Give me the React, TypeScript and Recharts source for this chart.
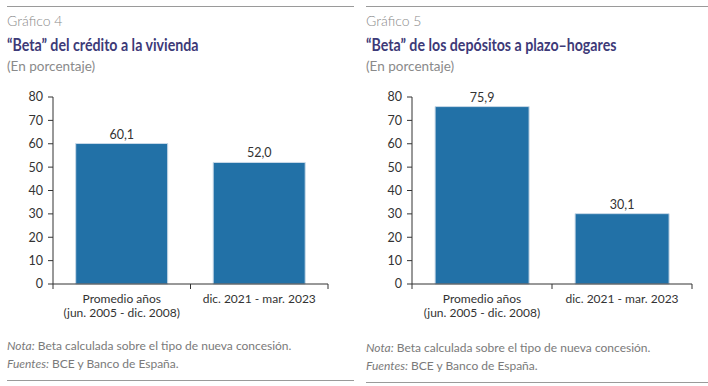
import { BarChart, Bar, XAxis, YAxis, LabelList } from 'recharts';

const categories = ['Promedio años\n(jun. 2005 - dic. 2008)', 'dic. 2021 - mar. 2023'];
const creditoBeta = [60.1, 52.0];
const depositosBeta = [75.9, 30.1];
const yTicks = [0, 10, 20, 30, 40, 50, 60, 70, 80];

const BAR = '#2271a7';
const INK = '#333333';
const GREY = '#8a8a8a';
const TITLE = '#3d3a78';
const FONT = 'Lato, "Open Sans", sans-serif';

const fmt = (v: number) => v.toFixed(1).replace('.', ',');

function CategoryTick(props: any) {
  const { x, y, payload, index, visibleTicksCount, bandHalf } = props;
  const half = payload?.offset || bandHalf;
  const lines = String(payload.value).split('\n');
  const isLast = index === (visibleTicksCount ?? categories.length) - 1;
  return (
    <g>
      <line x1={x - half} x2={x - half} y1={y} y2={y + 5} stroke={INK} />
      {isLast && <line x1={x + half} x2={x + half} y1={y} y2={y + 5} stroke={INK} />}
      {lines.map((l, i) => (
        <text key={i} x={x} y={y + 19 + i * 13.5} textAnchor="middle" fontSize={12} fill={INK} fontFamily={FONT}>
          {l}
        </text>
      ))}
    </g>
  );
}

interface PanelProps {
  left: number;
  number: string;
  title: string;
  values: number[];
  yAxisWidth: number;
  rightMargin: number;
  noteTop: number;
}

function Panel({ left, number, title, values, yAxisWidth, rightMargin, noteTop }: PanelProps) {
  const data = categories.map((c, i) => ({ cat: c, value: values[i] }));
  const width = 354;
  const plotW = width - yAxisWidth - rightMargin;
  return (
    <div style={{ position: 'absolute', left, top: 0, width, height: 386, fontFamily: FONT }}>
      <div style={{ position: 'absolute', left: 7, right: 0, top: 6, borderTop: '1.5px solid #9a9a9a' }} />
      <div style={{ position: 'absolute', left: 7, top: 13, fontSize: 14, lineHeight: '16px', color: GREY, fontWeight: 300 }}>
        {number}
      </div>
      <div
        style={{
          position: 'absolute',
          left: 7,
          top: 36,
          fontSize: 16.5,
          lineHeight: '18px',
          color: TITLE,
          fontWeight: 700,
          whiteSpace: 'nowrap',
          transform: 'scaleX(0.86)',
          transformOrigin: 'left center',
        }}
      >
        {title}
      </div>
      <div style={{ position: 'absolute', left: 7, top: 58, fontSize: 13.5, lineHeight: '16px', color: GREY }}>
        (En porcentaje)
      </div>
      <div style={{ position: 'absolute', left: 0, top: 80 }}>
        <BarChart width={width} height={245} data={data} margin={{ top: 17, right: rightMargin, bottom: 5, left: 0 }} barCategoryGap="16.5%">
          <XAxis
            dataKey="cat"
            interval={0}
            height={36}
            tickSize={0}
            tickMargin={0}
            tickLine={false}
            axisLine={{ stroke: INK }}
            tick={<CategoryTick bandHalf={plotW / categories.length / 2} />}
          />
          <YAxis
            width={yAxisWidth}
            domain={[0, 80]}
            ticks={yTicks}
            interval={0}
            tickSize={5}
            tickMargin={5}
            axisLine={{ stroke: INK }}
            tickLine={{ stroke: INK }}
            tick={{ fontSize: 12.5, fill: INK, fontFamily: FONT }}
          />
          <Bar dataKey="value" fill={BAR} stroke="#c9d9e8" strokeWidth={1} isAnimationActive={false}>
            <LabelList dataKey="value" position="top" offset={5} formatter={(v: any) => fmt(Number(v))} style={{ fontSize: 12.5, fill: INK, fontFamily: FONT }} />
          </Bar>
        </BarChart>
      </div>
      <div style={{ position: 'absolute', left: 7, top: noteTop, fontSize: 12, lineHeight: '18px', color: '#7a7a7a' }}>
        <div><i>Nota:</i> Beta calculada sobre el tipo de nueva concesión.</div>
        <div><i>Fuentes:</i> BCE y Banco de España.</div>
      </div>
      <div style={{ position: 'absolute', left: 7, right: 0, top: noteTop + 43, borderTop: '1.5px solid #9a9a9a' }} />
    </div>
  );
}

export default function App() {
  return (
    <div style={{ position: 'absolute', left: 0, top: 0, width: 708, height: 386, background: '#fff', overflow: 'hidden' }}>
      <Panel left={0} number="Gráfico 4" title="“Beta” del crédito a la vivienda" values={creditoBeta} yAxisWidth={53} rightMargin={26} noteTop={337} />
      <Panel left={359} number="Gráfico 5" title="“Beta” de los depósitos a plazo–hogares" values={depositosBeta} yAxisWidth={53} rightMargin={21} noteTop={339} />
    </div>
  );
}
